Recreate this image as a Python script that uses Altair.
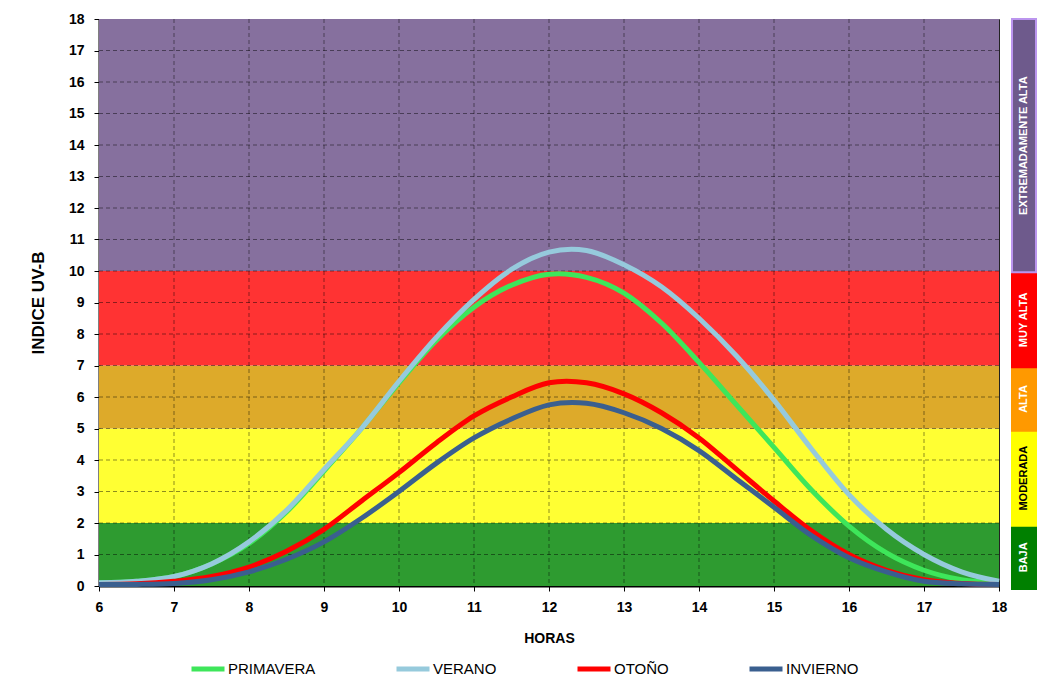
import altair as alt
import pandas as pd

# ---------------- data ----------------
hours = [6, 6.5, 7, 7.5, 8, 8.5, 9, 9.5, 10, 10.5, 11, 11.5, 12, 12.5,
         13, 13.5, 14, 14.5, 15, 15.5, 16, 16.5, 17, 17.5, 18]
primavera = [0.1, 0.15, 0.3, 0.7, 1.35, 2.35, 3.65, 5.0, 6.45, 7.8, 8.85, 9.55, 9.9, 9.8,
             9.3, 8.35, 7.1, 5.75, 4.4, 3.05, 1.9, 1.05, 0.5, 0.2, 0.1]
verano = [0.1, 0.15, 0.3, 0.7, 1.4, 2.4, 3.7, 5.0, 6.5, 7.9, 9.1, 10.05, 10.6, 10.65,
          10.2, 9.5, 8.5, 7.3, 5.9, 4.35, 2.9, 1.8, 1.0, 0.45, 0.15]
otono = [0.05, 0.07, 0.15, 0.3, 0.6, 1.1, 1.8, 2.7, 3.6, 4.55, 5.4, 6.0, 6.45, 6.45,
         6.1, 5.5, 4.7, 3.7, 2.7, 1.75, 1.0, 0.5, 0.2, 0.08, 0.05]
invierno = [0.05, 0.05, 0.08, 0.2, 0.45, 0.85, 1.4, 2.15, 3.0, 3.9, 4.7, 5.3, 5.75, 5.8,
            5.5, 5.0, 4.3, 3.4, 2.5, 1.6, 0.9, 0.45, 0.15, 0.07, 0.05]

series_names = ["PRIMAVERA", "VERANO", "OTOÑO", "INVIERNO"]
series_colors = ["#3EE65A", "#96CADC", "#FF0000", "#3A5F8F"]

band_lo = [0, 2, 5, 7, 10]
band_hi = [2, 5, 7, 10, 18]
band_fill = ["#2E9B30", "#FFFF33", "#DDAA2A", "#FF3333", "#86709E"]
side_fill = ["#008000", "#FFFF00", "#FF9900", "#FF0000", "#6E5A8C"]
side_stroke = ["#008000", "#FFFF00", "#FF9900", "#FF0000", "#BB95EE"]
side_label = ["BAJA", "MODERADA", "ALTA", "MUY ALTA", "EXTREMADAMENTE  ALTA"]
side_text_color = ["white", "black", "white", "white", "white"]

x_ticks = list(range(6, 19))
y_ticks = list(range(0, 19))
x_grid = list(range(7, 18))
y_grid = list(range(1, 18))

FONT = "Liberation Sans"

# ---------------- tables ----------------
rows = []
for name, vals in zip(series_names, [primavera, verano, otono, invierno]):
    for h, v in zip(hours, vals):
        rows.append({"hora": h, "uv": v, "serie": name})
lines_df = pd.DataFrame(rows)
bands_df = pd.DataFrame({"lo": band_lo, "hi": band_hi, "fill": band_fill,
                         "sfill": side_fill, "sstroke": side_stroke,
                         "label": side_label, "tcolor": side_text_color})
bands_df["mid"] = (bands_df["lo"] + bands_df["hi"]) / 2
xg_df = pd.DataFrame({"x": x_grid})
yg_df = pd.DataFrame({"y": y_grid})

xscale = alt.Scale(domain=[6, 18], nice=False, zero=False)
yscale = alt.Scale(domain=[0, 18], nice=False)

xaxis = alt.Axis(title="HORAS", values=x_ticks, format="d", grid=False,
                 labelFont=FONT, labelFontSize=14, labelFontWeight="bold",
                 labelColor="#000", labelPadding=9, labelOverlap=False,
                 titleFont=FONT, titleFontSize=14, titleFontWeight="bold",
                 titleColor="#000", titlePadding=17,
                 domainColor="#000", domainWidth=2, tickColor="#000",
                 tickSize=5, labelFlush=False)
yaxis = alt.Axis(title="INDICE UV-B", values=y_ticks, format="d", grid=False,
                 labelFont=FONT, labelFontSize=14, labelFontWeight="bold",
                 labelColor="#000", labelPadding=10, labelOverlap=False,
                 titleFont=FONT, titleFontSize=17, titleFontWeight="bold",
                 titleColor="#000", titlePadding=21,
                 domainColor="#000", domainWidth=2, tickColor="#000",
                 tickSize=5, labelFlush=False)

W, H = 900, 567

bands = alt.Chart(bands_df).mark_rect().encode(
    x=alt.X("xs:Q", scale=xscale, axis=xaxis),
    x2="xe:Q",
    y=alt.Y("lo:Q", scale=yscale, axis=yaxis),
    y2="hi:Q",
    color=alt.Color("fill:N", scale=None),
).transform_calculate(xs="6", xe="18")

vgrid = alt.Chart(xg_df).mark_rule(strokeDash=[4, 3], color="#000000", opacity=0.45, strokeWidth=1).encode(
    x=alt.X("x:Q", scale=xscale, axis=xaxis)
)
hgrid = alt.Chart(yg_df).mark_rule(strokeDash=[4, 3], color="#000000", opacity=0.45, strokeWidth=1).encode(
    y=alt.Y("y:Q", scale=yscale, axis=yaxis)
)

lines = alt.Chart(lines_df).mark_line(strokeWidth=5, interpolate="cardinal").encode(
    x=alt.X("hora:Q", scale=xscale, axis=xaxis),
    y=alt.Y("uv:Q", scale=yscale, axis=yaxis),
    color=alt.Color("serie:N",
                    scale=alt.Scale(domain=series_names, range=series_colors),
                    legend=alt.Legend(title=None, orient="none", direction="horizontal",
                                      legendX=90, legendY=631,
                                      symbolType="stroke", symbolSize=1089,
                                      symbolStrokeWidth=5, labelFont=FONT,
                                      labelFontSize=15, labelColor="#000",
                                      labelOffset=1, columnPadding=70)),
)

main = alt.layer(bands, vgrid, hgrid, lines).properties(
    width=W, height=H,
    view=alt.ViewBackground(stroke="#222", strokeWidth=1),
)

side_rect = alt.Chart(bands_df).mark_rect(strokeWidth=2).encode(
    y=alt.Y("lo:Q", scale=yscale, axis=None),
    y2="hi:Q",
    color=alt.Color("sfill:N", scale=None),
    stroke=alt.Stroke("sstroke:N", scale=None),
)
side_text = alt.Chart(bands_df).mark_text(angle=270, font=FONT, fontSize=11,
                                          fontWeight="bold").encode(
    y=alt.Y("mid:Q", scale=yscale, axis=None),
    color=alt.Color("tcolor:N", scale=None),
    text="label:N",
)
side = alt.layer(side_rect, side_text).properties(
    width=24, height=570,
    view=alt.ViewBackground(stroke="transparent"),
)

chart = alt.hconcat(main, side, spacing=0).properties(
    padding={"left": 20, "top": 3, "right": 5, "bottom": 0},
    background="white",
).resolve_scale(y="independent", color="independent")

chart.save("out.html", embed_options={"renderer": "svg", "actions": False})
